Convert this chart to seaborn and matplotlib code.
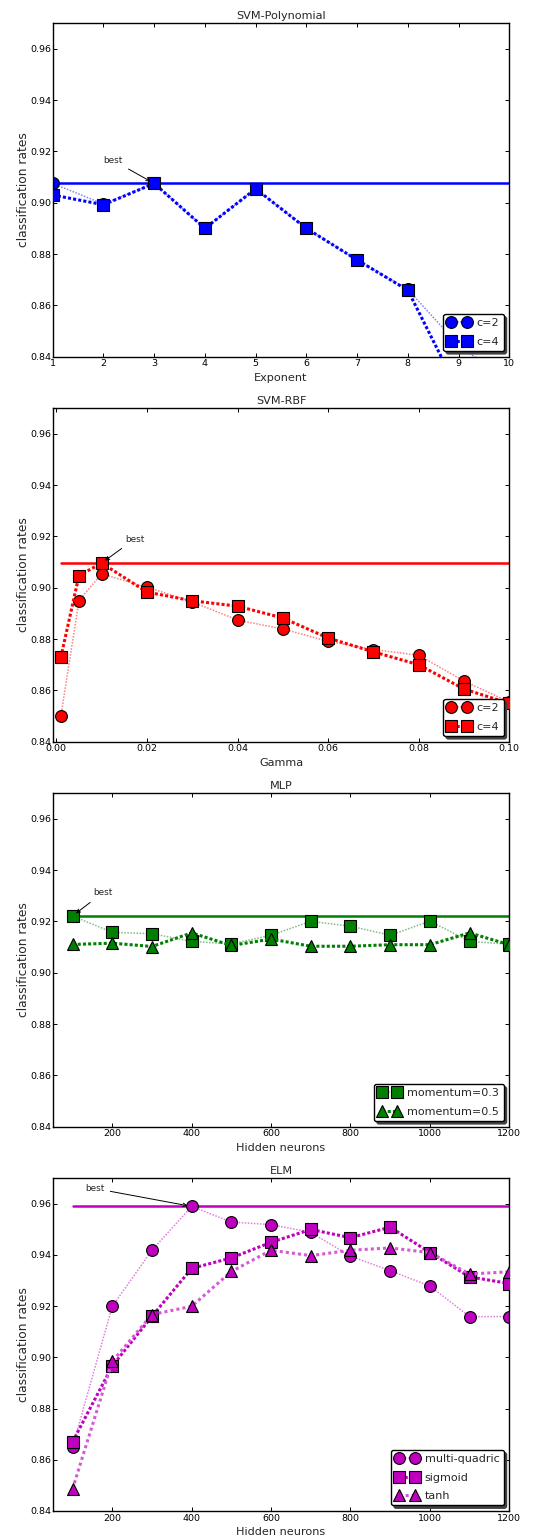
import numpy as np
import pandas as pd
import matplotlib
matplotlib.use("Agg")
import matplotlib.pyplot as plt
import seaborn as sns
from matplotlib.ticker import FormatStrFormatter, MultipleLocator

# ---------------- data ----------------
poly_exponent = [1, 2, 3, 4, 5, 6, 7, 8, 9, 10]
poly_c2 = [0.9075, 0.8995, 0.9075, 0.8900, 0.9054, 0.8900, 0.8777, 0.8662, 0.8445, 0.8300]
poly_c4 = [0.9030, 0.8992, 0.9075, 0.8900, 0.9054, 0.8900, 0.8777, 0.8659, 0.8265, 0.8100]

rbf_gamma = [0.001, 0.005, 0.01, 0.02, 0.03, 0.04, 0.05, 0.06, 0.07, 0.08, 0.09, 0.1]
rbf_c2 = [0.8500, 0.8950, 0.9054, 0.9002, 0.8945, 0.8874, 0.8839, 0.8791, 0.8759, 0.8737, 0.8636, 0.8555]
rbf_c4 = [0.8729, 0.9047, 0.9096, 0.8983, 0.8949, 0.8928, 0.8882, 0.8804, 0.8750, 0.8700, 0.8605, 0.8549]

neurons = [100, 200, 300, 400, 500, 600, 700, 800, 900, 1000, 1100, 1200]
mlp_m03 = [0.9221, 0.9157, 0.9152, 0.9122, 0.9112, 0.9146, 0.9200, 0.9181, 0.9146, 0.9201, 0.9122, 0.9111]
mlp_m05 = [0.9110, 0.9115, 0.9102, 0.9155, 0.9106, 0.9131, 0.9103, 0.9103, 0.9109, 0.9109, 0.9155, 0.9109]

elm_mq = [0.8650, 0.9199, 0.9418, 0.9589, 0.9528, 0.9518, 0.9488, 0.9395, 0.9338, 0.9278, 0.9159, 0.9159]
elm_sig = [0.8670, 0.8966, 0.9160, 0.9347, 0.9388, 0.9449, 0.9499, 0.9467, 0.9508, 0.9409, 0.9314, 0.9288]
elm_tanh = [0.8486, 0.8984, 0.9167, 0.9199, 0.9335, 0.9418, 0.9397, 0.9418, 0.9427, 0.9409, 0.9325, 0.9334]

titles = ["SVM-Polynomial", "SVM-RBF", "MLP", "ELM"]
xlabels = ["Exponent", "Gamma", "Hidden neurons", "Hidden neurons"]
best_x = [3, 0.01, 100, 400]
best_offsets = [(-41, 23), (33, 24), (30, 23), (-97, 18)]  # text offset (pixels)

# ---------------- style ----------------
sns.set_style("ticks")
plt.rcParams.update({
    "font.family": ["DejaVu Sans"],
    "xtick.direction": "in", "ytick.direction": "in",
    "xtick.top": True, "ytick.right": True,
    "xtick.major.size": 3, "ytick.major.size": 3,
    "xtick.major.width": 0.7, "ytick.major.width": 0.7,
    "xtick.major.pad": 2, "ytick.major.pad": 1,
    "xtick.labelsize": 6.8, "ytick.labelsize": 6.8,
    "axes.linewidth": 1.0, "axes.edgecolor": "black",
    "xtick.color": "black", "ytick.color": "black",
})

W, H = 537, 1537
fig = plt.figure(figsize=(W / 100, H / 100), dpi=100)
left_px, right_px = 52.7, 509.3
tops = [23, 408, 793, 1178]
bottoms = [356.7, 741.7, 1126.7, 1511]


def lighten(c, f):
    c = np.array(matplotlib.colors.to_rgb(c))
    return tuple(c + (1 - c) * f)


blue, red, green, mag = (0, 0, 1), (1, 0, 0), (0, 0.5, 0), (0.75, 0, 0.75)

panels = [
    (poly_exponent, [("c=2", poly_c2, "o"), ("c=4", poly_c4, "s")], blue, (1, 10)),
    (rbf_gamma, [("c=2", rbf_c2, "o"), ("c=4", rbf_c4, "s")], red, (-0.0008, 0.1)),
    (neurons, [("momentum=0.3", mlp_m03, "s"), ("momentum=0.5", mlp_m05, "^")], green, (50, 1200)),
    (neurons, [("multi-quadric", elm_mq, "o"), ("sigmoid", elm_sig, "s"), ("tanh", elm_tanh, "^")], mag, (50, 1200)),
]

for i, (xs, series, col, xlim) in enumerate(panels):
    ax = fig.add_axes([left_px / W, 1 - bottoms[i] / H,
                       (right_px - left_px) / W, (bottoms[i] - tops[i]) / H])
    allv = np.concatenate([np.array(s[1]) for s in series])
    best = allv.max()
    # best line
    sns.lineplot(x=[min(xs), max(xs)], y=[best, best], ax=ax, color=col,
                 linewidth=1.8, zorder=1)
    for j, (lab, ys, mk) in enumerate(series):
        if j == 0:
            lc, lw, ls = lighten(col, 0.5), 1.1, (0, (1, 1))
        elif j == 1:
            lc, lw, ls = col, 2.2, (0, (1.0, 0.7))
        else:
            lc, lw, ls = lighten(col, 0.35), 2.2, (0, (1.0, 1.0))
        sns.lineplot(x=xs, y=ys, ax=ax, color=lc, linewidth=lw, linestyle=ls,
                     marker=mk, markersize=8.5 if mk != "^" else 9,
                     markerfacecolor=col, markeredgecolor="black",
                     markeredgewidth=0.8, label=lab, zorder=2 + j)
    ax.set_xlim(*xlim)
    ax.set_ylim(0.84, 0.97)
    ax.yaxis.set_major_locator(MultipleLocator(0.02))
    ax.yaxis.set_major_formatter(FormatStrFormatter("%.2f"))
    if i == 0:
        ax.xaxis.set_major_locator(MultipleLocator(1))
    elif i == 1:
        ax.xaxis.set_major_locator(MultipleLocator(0.02))
        ax.xaxis.set_major_formatter(FormatStrFormatter("%.2f"))
    else:
        ax.xaxis.set_major_locator(MultipleLocator(200))
    ax.set_title(titles[i], fontsize=8.1, pad=3)
    ax.set_xlabel(xlabels[i], fontsize=8.1, labelpad=3)
    ax.set_ylabel("classification rates", fontsize=8.8, labelpad=0.5)
    for sp in ax.spines.values():
        sp.set_visible(True)
        sp.set_linewidth(1.0)
    ax.annotate("best", xy=(best_x[i], best), xytext=best_offsets[i],
                textcoords="offset pixels", fontsize=6.4, ha="center", va="center",
                arrowprops=dict(arrowstyle="->", color="black", lw=0.7,
                                shrinkA=2, shrinkB=3))
    handles, labels = ax.get_legend_handles_labels()
    leg = ax.legend(handles, labels, loc="lower right", fontsize=8, numpoints=2,
                    fancybox=True, shadow={"color": "0.25", "alpha": 1.0},
                    framealpha=1, edgecolor="black", handlelength=2.0,
                    handletextpad=0.6, borderpad=0.4, labelspacing=0.75,
                    borderaxespad=0.5)
    leg.get_frame().set_linewidth(1.0)

fig.savefig("out.png", dpi=100)
